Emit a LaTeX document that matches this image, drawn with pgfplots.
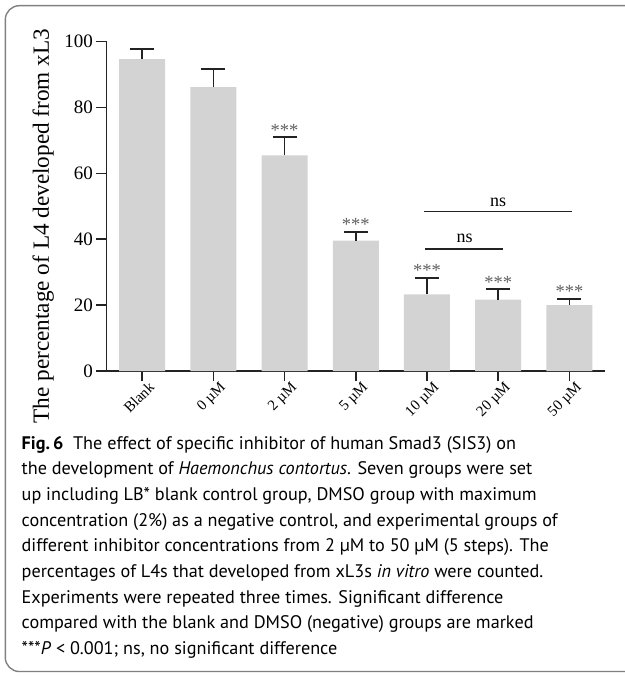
\documentclass[border=0pt]{standalone}
\usepackage{pgfplots}
\pgfplotsset{compat=1.18}
\usepackage{fontspec}
\setmainfont{Liberation Serif}
\newfontfamily\capfont{PT Sans}
\definecolor{barfill}{RGB}{211,211,211}
\definecolor{axcol}{RGB}{35,35,35}
\definecolor{starcol}{RGB}{95,95,95}
\definecolor{boxcol}{RGB}{128,128,128}
\pgfplotstableread{
x y err
0 94.7 3.0
1 86.2 5.5
2 65.5 5.5
3 39.6 2.7
4 23.3 5.0
5 21.7 3.2
6 20.0 1.9
}\datatable
\begin{document}
\begin{tikzpicture}
\useasboundingbox (0pt,0pt) rectangle (624pt,-676pt);
\draw[boxcol, line width=1.4pt, rounded corners=14pt] (650pt,-5.7pt) -- (5.3pt,-5.7pt) -- (5.3pt,-671.5pt) -- (650pt,-671.5pt);
\begin{axis}[
  at={(106.5pt,-371pt)}, anchor=south west,
  scale only axis, width=498.5pt, height=329.3pt,
  xmin=-0.5, xmax=6.5, ymin=0, ymax=100,
  clip=false,
  axis x line=bottom, axis y line=left,
  axis line style={-, line width=1.6pt, draw=axcol},
  ytick={0,20,40,60,80,100},
  xtick={0,...,6},
  xticklabels={Blank,0 µM,2 µM,5 µM,10 µM,20 µM,50 µM},
  tick align=outside, major tick length=10pt,
  tick style={line width=1.6pt, draw=axcol},
  /pgf/number format/assume math mode=true,
  yticklabel style={font=\fontsize{19}{22}\selectfont},
  xticklabel style={font=\fontsize{15}{18}\selectfont, rotate=45, anchor=north east, inner sep=0pt, xshift=4pt, yshift=-4pt},
  ylabel={The percentage of L4 developed from xL3},
  ylabel style={font=\fontsize{23.2}{26}\selectfont, at={(rel axis cs:-0.127,0.44)}, anchor=center},
]
\addplot[ybar, bar width=46pt, fill=barfill, draw=none, mark=none,
  error bars/.cd, y dir=plus, y explicit,
  error bar style={line width=1.6pt, draw=axcol},
  error mark options={rotate=90, mark size=12pt, line width=1.6pt, draw=axcol}]
  table[x=x, y=y, y error=err] {\datatable};
\draw[line width=1.6pt, axcol] (axis cs:-0.635,0) -- (axis cs:-0.5,0);
% significance stars
\node[anchor=base, yshift=1pt, text=starcol, font=\fontsize{18.5}{20}\selectfont, inner sep=0pt] at (axis cs:2,71.0) {***};
\node[anchor=base, yshift=1pt, text=starcol, font=\fontsize{18.5}{20}\selectfont, inner sep=0pt] at (axis cs:3,42.3) {***};
\node[anchor=base, yshift=1pt, text=starcol, font=\fontsize{18.5}{20}\selectfont, inner sep=0pt] at (axis cs:4,28.3) {***};
\node[anchor=base, yshift=1pt, text=starcol, font=\fontsize{18.5}{20}\selectfont, inner sep=0pt] at (axis cs:5,24.9) {***};
\node[anchor=base, yshift=1pt, text=starcol, font=\fontsize{18.5}{20}\selectfont, inner sep=0pt] at (axis cs:6,21.9) {***};
% ns brackets
\draw[line width=1.5pt, axcol] (axis cs:3.96,48.4) -- (axis cs:6.04,48.4);
\draw[line width=1.5pt, axcol] (axis cs:3.97,37.1) -- (axis cs:5.07,37.1);
\node[anchor=base, inner sep=0pt, font=\fontsize{18}{20}\selectfont] at (axis cs:5.0,49.9) {ns};
\node[anchor=base, inner sep=0pt, font=\fontsize{18}{20}\selectfont] at (axis cs:4.53,38.9) {ns};
\end{axis}
\begin{scope}[every node/.style={anchor=base west, inner sep=0pt, font=\capfont\fontsize{18.2}{22}\selectfont}]
\node at (21.5pt,-449pt) {\textbf{Fig.\,6}\ \ The effect of specific inhibitor of human Smad3 (SIS3) on};
\node at (21.5pt,-474.7pt) {the development of \textit{Haemonchus contortus}. Seven groups were set};
\node at (21.5pt,-500.4pt) {up including LB* blank control group, DMSO group with maximum};
\node at (21.5pt,-526.1pt) {concentration (2\%) as a negative control, and experimental groups of};
\node at (21.5pt,-551.8pt) {different inhibitor concentrations from 2 µM to 50 µM (5 steps). The};
\node at (21.5pt,-577.5pt) {percentages of L4s that developed from xL3s \textit{in vitro} were counted.};
\node at (21.5pt,-603.2pt) {Experiments were repeated three times. Significant difference};
\node at (21.5pt,-628.9pt) {compared with the blank and DMSO (negative) groups are marked};
\node at (21.5pt,-654.6pt) {***\textit{P} < 0.001; ns, no significant difference};
\end{scope}
\end{tikzpicture}
\end{document}
